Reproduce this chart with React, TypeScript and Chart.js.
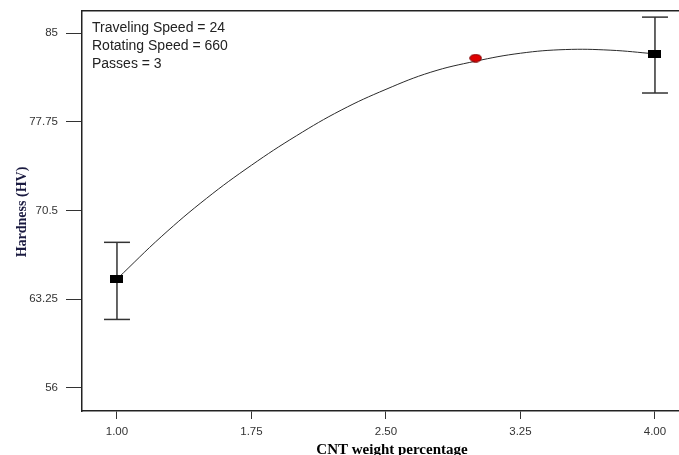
import { useEffect, useRef } from 'react';
import { Chart, registerables } from 'chart.js';

Chart.register(...registerables);

// ---------- data ----------
const xTickValues = [1.0, 1.75, 2.5, 3.25, 4.0];
const yTickValues = [56, 63.25, 70.5, 77.75, 85];
const xMin = 0.805;
const xMax = 4.134;
const yMin = 54.12;
const yMax = 86.8;

const curveX = [1.0, 1.25, 1.5, 1.75, 2.0, 2.25, 2.5, 2.75, 3.0, 3.25, 3.5, 3.75, 4.0];
const curveY = [64.9, 68.4, 71.5, 74.2, 76.6, 78.7, 80.4, 81.8, 82.7, 83.35, 83.65, 83.6, 83.3];

const designX = [1.0, 4.0];
const designY = [64.9, 83.3];
const errorLow = [61.6, 80.1];
const errorHigh = [67.9, 86.3];

const predictX = [3.0];
const predictY = [82.95];

const annotationLines = ['Traveling Speed = 24', 'Rotating Speed = 660', 'Passes = 3'];
const xTitle = 'CNT weight percentage';
const yTitle = 'Hardness (HV)';

function makeRect(): HTMLCanvasElement {
  const c = document.createElement('canvas');
  c.width = 13;
  c.height = 8;
  const g = c.getContext('2d')!;
  g.fillStyle = '#000';
  g.fillRect(0, 0, 13, 8);
  return c;
}

function makeDot(): HTMLCanvasElement {
  const c = document.createElement('canvas');
  c.width = 13;
  c.height = 9;
  const g = c.getContext('2d')!;
  g.beginPath();
  g.ellipse(6.5, 4.5, 5.8, 3.8, 0, 0, Math.PI * 2);
  g.fillStyle = '#e00000';
  g.fill();
  g.lineWidth = 1;
  g.strokeStyle = '#7a0000';
  g.stroke();
  return c;
}

const textPlugin = {
  id: 'textPlugin',
  afterDraw(chart: any) {
    const { ctx, chartArea } = chart;
    ctx.save();
    // annotation
    ctx.fillStyle = '#222';
    ctx.font = '14px "Liberation Sans", Arial, sans-serif';
    ctx.textAlign = 'left';
    ctx.textBaseline = 'alphabetic';
    annotationLines.forEach((t, i) => {
      ctx.fillText(t, chartArea.left + 10, chartArea.top + 21 + i * 18);
    });
    // x title
    ctx.fillStyle = '#000';
    ctx.font = 'bold 15px "Liberation Serif", "Times New Roman", serif';
    ctx.textAlign = 'center';
    ctx.fillText(xTitle, 392, 454);
    // y title
    ctx.translate(26, 212);
    ctx.rotate(-Math.PI / 2);
    ctx.fillStyle = '#1a1a40';
    ctx.font = 'bold 14px "Liberation Serif", "Times New Roman", serif';
    ctx.textAlign = 'center';
    ctx.fillText(yTitle, 0, 0);
    ctx.restore();
  },
};

export default function App() {
  const ref = useRef<HTMLCanvasElement>(null);

  useEffect(() => {
    if (!ref.current) return;
    const rectImg = makeRect();
    const dotImg = makeDot();

    const errorSets = designX.map((x, i) => ({
      data: [
        { x, y: errorLow[i] },
        { x, y: errorHigh[i] },
      ],
      showLine: true,
      borderColor: '#333',
      borderWidth: 1.5,
      pointStyle: 'line' as const,
      pointRadius: 13,
      pointBorderWidth: 1.5,
      pointBorderColor: '#333',
      clip: false as any,
      order: 3,
    }));

    const chart = new Chart(ref.current, {
      type: 'scatter',
      data: {
        datasets: [
          {
            data: predictX.map((x, i) => ({ x, y: predictY[i] })),
            pointStyle: dotImg as any,
            pointRadius: 6,
            order: 0,
          },
          {
            data: designX.map((x, i) => ({ x, y: designY[i] })),
            pointStyle: rectImg as any,
            pointRadius: 6,
            order: 1,
          },
          {
            data: curveX.map((x, i) => ({ x, y: curveY[i] })),
            showLine: true,
            borderColor: '#2a2a2a',
            borderWidth: 1,
            pointRadius: 0,
            tension: 0.4,
            order: 2,
          },
          ...errorSets,
        ],
      },
      options: {
        responsive: false,
        animation: false,
        events: [],
        layout: { autoPadding: false, padding: { top: 11, right: 0, bottom: 0, left: 0 } },
        plugins: {
          legend: { display: false },
          tooltip: { enabled: false },
        },
        scales: {
          x: {
            type: 'linear',
            position: 'bottom',
            min: xMin,
            max: xMax,
            afterBuildTicks: (s: any) => {
              s.ticks = xTickValues.map((v) => ({ value: v }));
            },
            afterFit: (s: any) => {
              s.height = 44;
              s.paddingLeft = 0;
              s.paddingRight = 0;
            },
            grid: {
              display: true,
              drawOnChartArea: false,
              drawTicks: true,
              tickLength: 8,
              color: '#333',
              lineWidth: 1,
            },
            border: { display: true, color: '#222', width: 1.5 },
            ticks: {
              padding: 6,
              color: '#333',
              font: { family: '"Liberation Sans", Arial, sans-serif', size: 11.5 },
              maxRotation: 0,
              callback: (v: any) => Number(v).toFixed(2),
            },
          },
          xTop: {
            type: 'linear',
            position: 'top',
            min: xMin,
            max: xMax,
            afterFit: (s: any) => {
              s.height = 0;
              s.paddingLeft = 0;
              s.paddingRight = 0;
            },
            grid: { display: false },
            border: { display: true, color: '#222', width: 1.5 },
            ticks: { display: false },
          },
          y: {
            type: 'linear',
            position: 'left',
            min: yMin,
            max: yMax,
            afterBuildTicks: (s: any) => {
              s.ticks = yTickValues.map((v) => ({ value: v }));
            },
            afterFit: (s: any) => {
              s.width = 82;
              s.paddingTop = 0;
              s.paddingBottom = 0;
            },
            grid: {
              display: true,
              drawOnChartArea: false,
              drawTicks: true,
              tickLength: 16,
              color: '#333',
              lineWidth: 1,
            },
            border: { display: true, color: '#222', width: 1.5 },
            ticks: {
              padding: 8,
              color: '#333',
              font: { family: '"Liberation Sans", Arial, sans-serif', size: 11.5 },
              callback: (v: any) => String(v),
            },
          },
        },
      },
      plugins: [textPlugin],
    });
    return () => chart.destroy();
  }, []);

  return (
    <div style={{ position: 'fixed', left: 0, top: 0, width: 679, height: 455, background: '#fff' }}>
      <canvas ref={ref} width={679} height={455} style={{ display: 'block' }} />
    </div>
  );
}
